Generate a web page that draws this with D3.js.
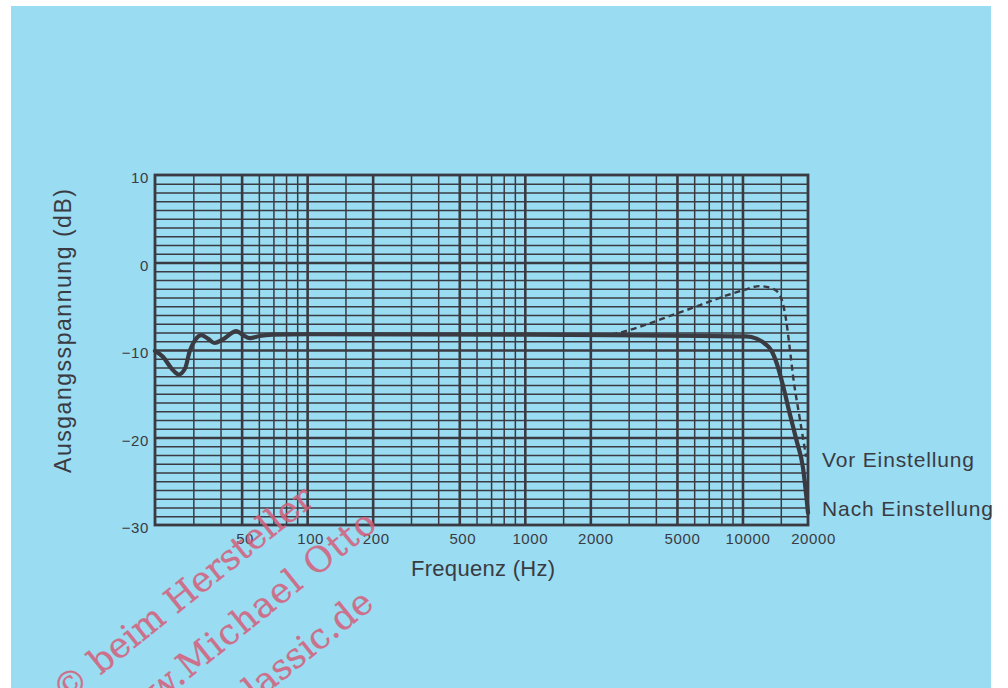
<!DOCTYPE html>
<html lang="de">
<head>
<meta charset="UTF-8">
<title>Frequenzgang</title>
<script src="https://cdn.jsdelivr.net/npm/d3@7"></script>
<style>
  html, body { margin: 0; padding: 0; background: #fff; }
  svg { display: block; font-family: "Liberation Sans", Arial, Helvetica, sans-serif; }
</style>
</head>
<body>
<div id="chart"></div>
<script>
// Kurve "Nach Einstellung" (durchgezogen)
const nachFreq = [20, 21.8, 23.8, 25.7, 27.5, 28.9, 30.5, 32.7, 35, 37.5, 41, 47.3, 50.8, 54.5, 60.4, 69.4, 100, 1000, 2500, 10400, 11600, 12700, 13600, 14400, 15400, 16500, 17700, 18950, 20000];
const nachDb   = [-10.1, -10.8, -12.1, -12.8, -12.1, -10.1, -8.9, -8.3, -8.7, -9.2, -8.8, -7.85, -8.3, -8.65, -8.4, -8.25, -8.2, -8.25, -8.3, -8.45, -8.7, -9.3, -10.1, -11.6, -14.2, -17.3, -20.3, -23.4, -28.6];

// Kurve "Vor Einstellung" (gestrichelt)
const vorFreq = [2500, 2800, 5160, 10000, 12000, 13800, 14900, 15800, 16600, 17100, 18300, 19600];
const vorDb   = [-8.25, -7.95, -5.7, -3.2, -2.7, -3.0, -3.8, -6.3, -10.4, -13.1, -17.7, -22.2];

// Rasterlinien und Beschriftungen
const gridFreq = [30, 40, 50, 60, 70, 80, 90, 100, 150, 200, 300, 400, 500, 600, 700, 800, 900,
                  1000, 1500, 2000, 3000, 4000, 5000, 6000, 7000, 8000, 9000, 10000, 15000];
const majorFreq = [50, 100, 200, 500, 1000, 2000, 5000, 10000];
const freqLabels = [50, 100, 200, 500, 1000, 2000, 5000, 10000, 20000];
const dbGrid = d3.range(-29, 10, 1);
const dbLabels = [10, 0, -10, -20, -30];

const W = 1008, H = 688;
const ink = "#3a3b42";

const svg = d3.select("#chart").append("svg")
  .attr("width", W).attr("height", H);

// blaue Fläche
svg.append("rect")
  .attr("x", 11).attr("y", 6).attr("width", 980).attr("height", H - 6)
  .attr("fill", "#9adcf2");

const x = d3.scaleLog().domain([20, 20000]).range([155, 808]);
const y = d3.scaleLinear().domain([-30, 10]).range([525, 175]);

const plotH = y(-30) - y(10);
const plotW = x(20000) - x(20);

// vertikale Rasterlinien
svg.append("g")
  .attr("transform", `translate(0,${y(-30)})`)
  .call(d3.axisBottom(x).tickValues(gridFreq).tickSize(-plotH).tickFormat(""))
  .call(g => g.select(".domain").remove())
  .call(g => g.selectAll(".tick line")
    .attr("stroke", ink)
    .attr("stroke-width", d => majorFreq.includes(d) ? 2.6 : 1.5));

// horizontale Rasterlinien
svg.append("g")
  .attr("transform", `translate(${x(20)},0)`)
  .call(d3.axisLeft(y).tickValues(dbGrid).tickSize(-plotW).tickFormat(""))
  .call(g => g.select(".domain").remove())
  .call(g => g.selectAll(".tick line")
    .attr("stroke", ink)
    .attr("stroke-width", d => d % 10 === 0 ? 2.6 : 1.4));

// Rahmen
svg.append("rect")
  .attr("x", x(20)).attr("y", y(10))
  .attr("width", plotW).attr("height", plotH)
  .attr("fill", "none").attr("stroke", ink).attr("stroke-width", 2.8);

// Achsenbeschriftung X
svg.append("g")
  .attr("transform", `translate(0,${y(-30)})`)
  .call(d3.axisBottom(x).tickValues(freqLabels).tickSize(0).tickPadding(8).tickFormat(d3.format("d")))
  .call(g => g.select(".domain").remove())
  .call(g => g.selectAll(".tick text")
    .attr("dx", d => d >= 1000 ? 5 : 3)
    .attr("fill", ink)
    .attr("font-size", 15)
    .attr("letter-spacing", 0.6)
    .attr("font-family", "Liberation Sans, Arial, sans-serif"));

// Achsenbeschriftung Y
svg.append("g")
  .attr("transform", `translate(${x(20)},0)`)
  .call(d3.axisLeft(y).tickValues(dbLabels).tickSize(0).tickPadding(6).tickFormat(d3.format("d")))
  .call(g => g.select(".domain").remove())
  .call(g => g.selectAll(".tick text")
    .attr("dy", "0.5em")
    .attr("fill", ink)
    .attr("font-size", 15)
    .attr("letter-spacing", 0.6)
    .attr("font-family", "Liberation Sans, Arial, sans-serif"));

// Kurven
const line = d3.line()
  .x(d => x(d[0]))
  .y(d => y(d[1]))
  .curve(d3.curveMonotoneX);

svg.append("path")
  .datum(vorFreq.map((f, i) => [f, vorDb[i]]))
  .attr("d", line)
  .attr("fill", "none")
  .attr("stroke", ink)
  .attr("stroke-width", 2.4)
  .attr("stroke-dasharray", "6,4");

svg.append("path")
  .datum(nachFreq.map((f, i) => [f, nachDb[i]]))
  .attr("d", line)
  .attr("fill", "none")
  .attr("stroke", ink)
  .attr("stroke-width", 4.2)
  .attr("stroke-linejoin", "round")
  .attr("stroke-linecap", "round");

// Titel
svg.append("text")
  .attr("transform", "translate(71,331) rotate(-90)")
  .attr("text-anchor", "middle")
  .attr("font-size", 23)
  .attr("fill", ink)
  .attr("textLength", 284)
  .text("Ausgangsspannung (dB)");

svg.append("text")
  .attr("x", 411).attr("y", 576)
  .attr("font-size", 22)
  .attr("fill", ink)
  .attr("textLength", 144)
  .text("Frequenz (Hz)");

svg.append("text")
  .attr("x", 822).attr("y", 467)
  .attr("font-size", 21)
  .attr("fill", ink)
  .attr("textLength", 152)
  .text("Vor Einstellung");

svg.append("text")
  .attr("x", 822).attr("y", 516)
  .attr("font-size", 21)
  .attr("fill", ink)
  .attr("textLength", 171)
  .text("Nach Einstellung");

// Wasserzeichen
const wm = svg.append("g")
  .attr("transform", "rotate(-38.7)")
  .attr("font-family", "DejaVu Serif, Liberation Serif, serif")
  .attr("font-size", 35)
  .attr("fill", "#d65e7a")
  .attr("fill-opacity", 0.85)
  .attr("stroke", "#d65e7a")
  .attr("stroke-opacity", 0.5)
  .attr("stroke-width", 0.6)
  .attr("text-anchor", "end");

wm.append("text").attr("x", -68).attr("y", 590).attr("textLength", 322).text("© beim Hersteller");
wm.append("text").attr("x", -34).attr("y", 648).attr("textLength", 345).text("www.Michael Otto");
wm.append("text").attr("x", -86).attr("y", 708).attr("textLength", 340).text("www.hifi-classic.de");
</script>
</body>
</html>
